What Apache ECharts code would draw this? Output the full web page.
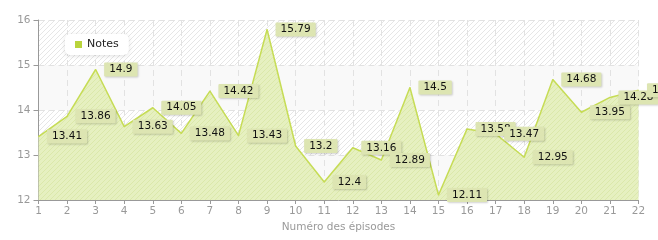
<!DOCTYPE html>
<html><head><meta charset="utf-8">
<script src="https://cdn.jsdelivr.net/npm/echarts@6/dist/echarts.min.js"></script>
<style>html,body{margin:0;padding:0;background:#fff}#c{width:658px;height:240px}</style>
</head><body><div id="c"></div>
<script>
const episodes = ['1','2','3','4','5','6','7','8','9','10','11','12','13','14','15','16','17','18','19','20','21','22'];
const notes = [13.41,13.86,14.9,13.63,14.05,13.48,14.42,13.43,15.79,13.2,12.4,13.16,12.89,14.5,12.11,13.58,13.47,12.95,14.68,13.95,14.28,14.44];
const seriesName = 'Notes';
const xName = 'Numéro des épisodes';

function hatch(bg, fg, size) {
  const c = document.createElement('canvas');
  c.width = size; c.height = size;
  const g = c.getContext('2d');
  g.fillStyle = bg; g.fillRect(0,0,size,size);
  g.strokeStyle = fg; g.lineWidth = 1;
  g.beginPath();
  g.moveTo(0,size); g.lineTo(size,0);
  g.moveTo(-size/2,size/2); g.lineTo(size/2,-size/2);
  g.moveTo(size/2,size*1.5); g.lineTo(size*1.5,size/2);
  g.stroke();
  return c;
}

const chart = echarts.init(document.getElementById('c'), null, {renderer:'canvas'});
chart.setOption({
  animation:false,
  textStyle:{fontFamily:'DejaVu Sans'},
  grid:{left:38.5,right:19.5,top:20,bottom:40,show:true,borderWidth:0,
        backgroundColor:{image:hatch('#ffffff','#e6e6e6',5),repeat:'repeat'}},
  legend:{left:65,top:34,data:[seriesName],itemWidth:7,itemHeight:7,icon:'rect',
    backgroundColor:'#ffffff',borderRadius:5,padding:[5,10,5,10],
    shadowColor:'rgba(0,0,0,0.12)',shadowBlur:4,shadowOffsetY:1,
    itemStyle:{color:'#b9d43c',borderWidth:0},
    textStyle:{fontSize:11,color:'#222',fontFamily:'DejaVu Sans'}},
  xAxis:{type:'category',data:episodes,boundaryGap:false,
    name:xName,nameLocation:'middle',nameGap:21,
    nameTextStyle:{color:'#999',fontSize:10.5},
    axisLine:{lineStyle:{color:'#999'}},
    axisTick:{alignWithLabel:true,length:4,lineStyle:{color:'#999'}},
    axisLabel:{color:'#999',fontSize:10.5,margin:6,interval:0},
    splitLine:{show:true,lineStyle:{color:'#e2e2e2',type:[6,4]}}},
  yAxis:{type:'value',min:12,max:16,interval:1,
    axisLine:{show:true,lineStyle:{color:'#999'}},
    axisTick:{show:true,length:5,lineStyle:{color:'#999'}},
    axisLabel:{color:'#999',fontSize:10.5,margin:8},
    splitLine:{show:true,lineStyle:{color:'#e2e2e2',type:[6,4]}},
    splitArea:{show:true,areaStyle:{color:['rgba(249,249,249,1)','rgba(255,255,255,0)']}}},
  series:[{
    name:seriesName,type:'line',data:notes,symbol:'circle',symbolSize:1,showSymbol:true,
    lineStyle:{color:'#c6dc55',width:1.5},
    itemStyle:{color:'#c6dc55',borderWidth:0},
    areaStyle:{color:{image:hatch('#e6f0c0','#dbe8aa',5),repeat:'repeat'},opacity:1},
    label:{show:true,position:'right',distance:8,color:'#111',fontSize:10.5,
      backgroundColor:'#dde5b2',padding:[2,5,1,5],borderRadius:1,
      shadowColor:'rgba(0,0,0,0.18)',shadowBlur:2,shadowOffsetX:1,shadowOffsetY:1}
  }]
});
</script></body></html>
